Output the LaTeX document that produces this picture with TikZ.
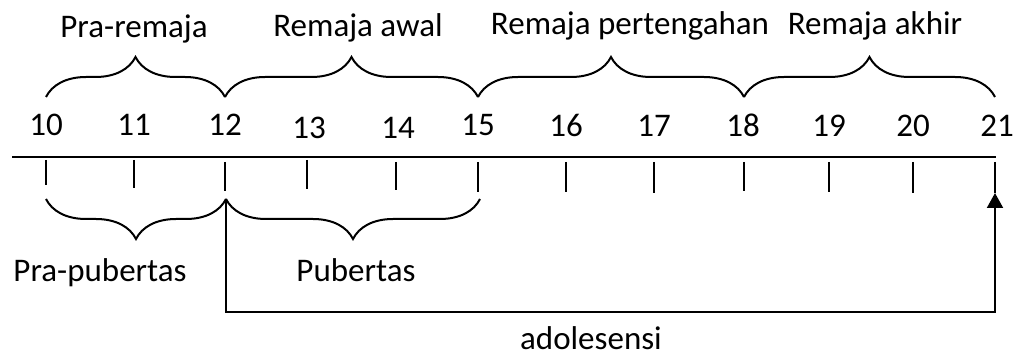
\documentclass[tikz,border=0pt]{standalone}
\usepackage{fontspec}
\setmainfont{Carlito}
\usetikzlibrary{decorations.pathreplacing,arrows.meta}
\begin{document}
\begin{tikzpicture}[x=1pt,y=-1pt,
  lbl/.style={anchor=base,inner sep=0pt,font=\fontsize{33}{38}\selectfont},
  tick/.style={line width=2pt},
  axisline/.style={line width=2.6pt},
  bracetop/.style={line width=2pt,decorate,decoration={brace,amplitude=40pt}},
  conn/.style={line width=2pt}]
\useasboundingbox (0,0) rectangle (1013,358);
% axis
\coordinate (ax0) at (12,157);
\coordinate (ax1) at (996,157);
\draw[axisline] (ax0) -- (ax1);
% numbers
\node[lbl] (n10) at (46,136) {10};
\node[lbl] (n11) at (134,136) {11};
\node[lbl] (n12) at (225,136) {12};
\node[lbl] (n13) at (309,139) {13};
\node[lbl] (n14) at (398,139) {14};
\node[lbl] (n15) at (478,136) {15};
\node[lbl] (n16) at (566,137) {16};
\node[lbl] (n17) at (654,137) {17};
\node[lbl] (n18) at (743,137) {18};
\node[lbl] (n19) at (829,137) {19};
\node[lbl] (n20) at (913,137) {20};
\node[lbl] (n21) at (997,137) {21};
% ticks
\foreach \v/\x/\a/\b in {10/46/160/185,11/134/160/188,12/225/162/191,13/307/160/189,14/396/162/190,15/478/162/192,16/566/162/192,17/654/162/193,18/744/162/191,19/829/162/192,20/913/162/193}{
  \coordinate (t\v a) at (\x,\a);
  \coordinate (t\v b) at (\x,\b);
  \draw[tick] (t\v a) -- (t\v b);
}
\coordinate (t21a) at (995,162);
\coordinate (t21b) at (995,193);
\draw[tick] (t21a) -- (t21b);
% upper braces
\coordinate (u10) at (46,97);
\coordinate (u12) at (225,97);
\coordinate (u15) at (478,97);
\coordinate (u18) at (744,97);
\coordinate (u21) at (995,97);
\draw[bracetop] (u10) -- (u12);
\draw[bracetop] (u12) -- (u15);
\draw[bracetop] (u15) -- (u18);
\draw[bracetop] (u18) -- (u21);
\node[lbl] (pr) at (134,38) {Pra-remaja};
\node[lbl] (ra) at (358,37) {Remaja awal};
\node[lbl] (rp) at (630,35) {Remaja pertengahan};
\node[lbl] (rk) at (875,35) {Remaja akhir};
% lower braces
\coordinate (l10) at (46,199);
\coordinate (l12) at (226,199);
\coordinate (l15) at (480,199);
\draw[bracetop] (l12) -- (l10);
\draw[bracetop] (l15) -- (l12);
\node[lbl] (pp) at (100,282) {Pra-pubertas};
\node[lbl] (pb) at (356,282) {Pubertas};
% adolescence connector
\coordinate (a1) at (226,199);
\coordinate (a2) at (226,312);
\draw[conn,-{Triangle[length=15pt,width=16pt]}] (a1) -- (a2) -| (t21b);
\node[lbl] (ad) at (591,349) {adolesensi};
\end{tikzpicture}
\end{document}
